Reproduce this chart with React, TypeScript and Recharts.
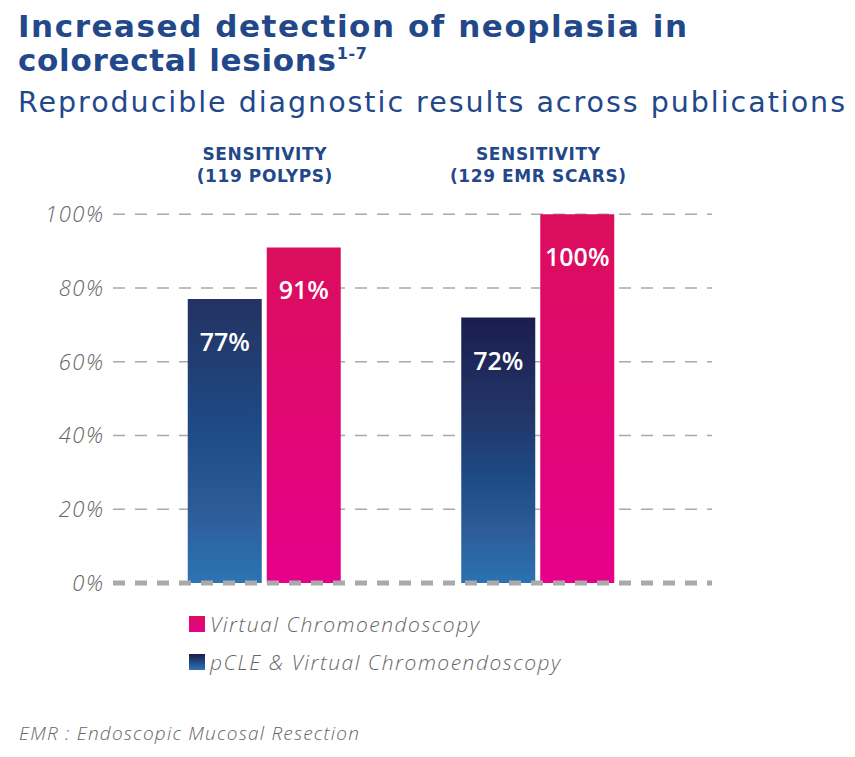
import React from 'react'
import { BarChart, Bar, XAxis, YAxis, CartesianGrid, ReferenceLine, LabelList, Legend, Cell } from 'recharts'

const groupHeading = ['SENSITIVITY', 'SENSITIVITY']
const categories = ['(119 POLYPS)', '(129 EMR SCARS)']
const pcleValues = [77, 72]
const virtualValues = [91, 100]
const yTicks = [0, 20, 40, 60, 80, 100]
const seriesNames = ['Virtual Chromoendoscopy', 'pCLE & Virtual Chromoendoscopy']

const data = categories.map((c, i) => ({
  name: c,
  heading: groupHeading[i],
  pcle: pcleValues[i],
  virtual: virtualValues[i],
}))

const BLUE = '#22488a'
const GREY = '#666'
const FONT = '"Open Sans", sans-serif'
const HEAD = '"DejaVu Sans", sans-serif'

function CategoryTick({ x, y, payload, index }: any) {
  const common = {
    textAnchor: 'middle' as const,
    fill: BLUE,
    fontSize: 17,
    fontWeight: 700,
    fontFamily: HEAD,
    letterSpacing: 0.6,
  }
  return (
    <g>
      <text x={x + 0.3} y={y - 54} {...common}>
        {groupHeading[index]}
      </text>
      <text x={x + 0.3} y={y - 32} {...common}>
        {payload.value}
      </text>
    </g>
  )
}

function BarValue({ x, y, width, value }: any) {
  return (
    <text
      x={x + width / 2}
      y={y + 42}
      textAnchor="middle"
      dominantBaseline="central"
      fill="#fff"
      fontSize={25}
      fontWeight={600}
      fontFamily={FONT}
    >
      {value}%
    </text>
  )
}

function LegendBox() {
  const swatches = [
    'linear-gradient(#db0e5c, #e6008a)',
    'linear-gradient(#1b1d4f, #2d74b3)',
  ]
  return (
    <div style={{ fontFamily: FONT }}>
      {seriesNames.map((n, i) => (
        <div key={n} style={{ display: 'flex', alignItems: 'center', height: 38 }}>
          <span style={{ width: 16, height: 16, background: swatches[i], marginRight: 5 }} />
          <span style={{ fontStyle: 'italic', fontSize: 21, color: GREY, fontWeight: 300, letterSpacing: 1.5 }}>
            {n}
          </span>
        </div>
      ))}
    </div>
  )
}

export default function App() {
  return (
    <div style={{ position: 'absolute', left: 0, top: 0, width: 855, height: 757, background: '#fff' }}>
      <svg width={855} height={130} style={{ position: 'absolute', left: 0, top: 0 }}>
        <text x={18} y={37} fill={BLUE} fontSize={31} fontWeight={700} fontFamily={HEAD} textLength={669} lengthAdjust="spacing">
          Increased detection of neoplasia in
        </text>
        <text x={18} y={71} fill={BLUE} fontSize={31} fontWeight={700} fontFamily={HEAD} textLength={349} lengthAdjust="spacing">
          colorectal lesions
          <tspan fontSize={16} dy={-12}>1-7</tspan>
        </text>
        <text x={18} y={112} fill={BLUE} fontSize={28.5} fontFamily={HEAD} textLength={827} lengthAdjust="spacing">
          Reproducible diagnostic results across publications
        </text>
      </svg>
      <div style={{ position: 'absolute', left: 0, top: 0 }}>
        <BarChart
          width={855}
          height={700}
          data={data}
          margin={{ top: 130, right: 143, bottom: 117, left: 0 }}
          barSize={74}
          barGap={5}
        >
          <defs>
            <linearGradient id="blue0" x1="0" y1="0" x2="0" y2="1">
              <stop offset="0%" stopColor="#243262" />
              <stop offset="45%" stopColor="#1e4a85" />
              <stop offset="75%" stopColor="#2d5c99" />
              <stop offset="100%" stopColor="#2d74b3" />
            </linearGradient>
            <linearGradient id="blue1" x1="0" y1="0" x2="0" y2="1">
              <stop offset="0%" stopColor="#1b1d4f" />
              <stop offset="35%" stopColor="#223466" />
              <stop offset="60%" stopColor="#1e4a85" />
              <stop offset="80%" stopColor="#2d5c99" />
              <stop offset="100%" stopColor="#2b72b2" />
            </linearGradient>
            <linearGradient id="pink" x1="0" y1="0" x2="0" y2="1">
              <stop offset="0%" stopColor="#db0e5c" />
              <stop offset="100%" stopColor="#e6008a" />
            </linearGradient>
          </defs>
          <CartesianGrid vertical={false} stroke="#aaa" strokeWidth={1.5} strokeDasharray="12 10" />
          <XAxis
            dataKey="name"
            orientation="top"
            height={84.3}
            axisLine={false}
            tickLine={false}
            tickSize={0}
            tickMargin={0}
            padding={{ left: 14.75, right: 37.25 }}
            tick={<CategoryTick />}
            interval={0}
          />
          <YAxis
            domain={[0, 100]}
            ticks={yTicks}
            width={113}
            axisLine={false}
            tickLine={false}
            tickSize={0}
            tickMargin={8.5}
            tickFormatter={(v: number) => `${v}%`}
            tick={{ fill: GREY, fontSize: 22, fontStyle: 'italic', fontFamily: FONT, fontWeight: 300, letterSpacing: 1.5 }}
          />
          <ReferenceLine y={0} stroke="#aaa" strokeWidth={5} strokeDasharray="12 10" />
          <Bar dataKey="pcle" name={seriesNames[1]} isAnimationActive={false}>
            {data.map((d, i) => (
              <Cell key={d.name} fill={`url(#blue${i})`} />
            ))}
            <LabelList dataKey="pcle" content={<BarValue />} />
          </Bar>
          <Bar dataKey="virtual" name={seriesNames[0]} fill="url(#pink)" isAnimationActive={false}>
            <LabelList dataKey="virtual" content={<BarValue />} />
          </Bar>
          <Legend
            layout="horizontal"
            verticalAlign="middle"
            align="center"
            content={<LegendBox />}
            wrapperStyle={{ top: 605, left: 189, width: 500, height: 80 }}
          />
        </BarChart>
      </div>
      <div
        style={{
          position: 'absolute',
          left: 19,
          top: 720,
          fontFamily: FONT,
          fontStyle: 'italic',
          fontWeight: 300,
          fontSize: 19,
          color: GREY,
          lineHeight: '26px',
          letterSpacing: 1.2,
        }}
      >
        EMR : Endoscopic Mucosal Resection
      </div>
    </div>
  )
}
